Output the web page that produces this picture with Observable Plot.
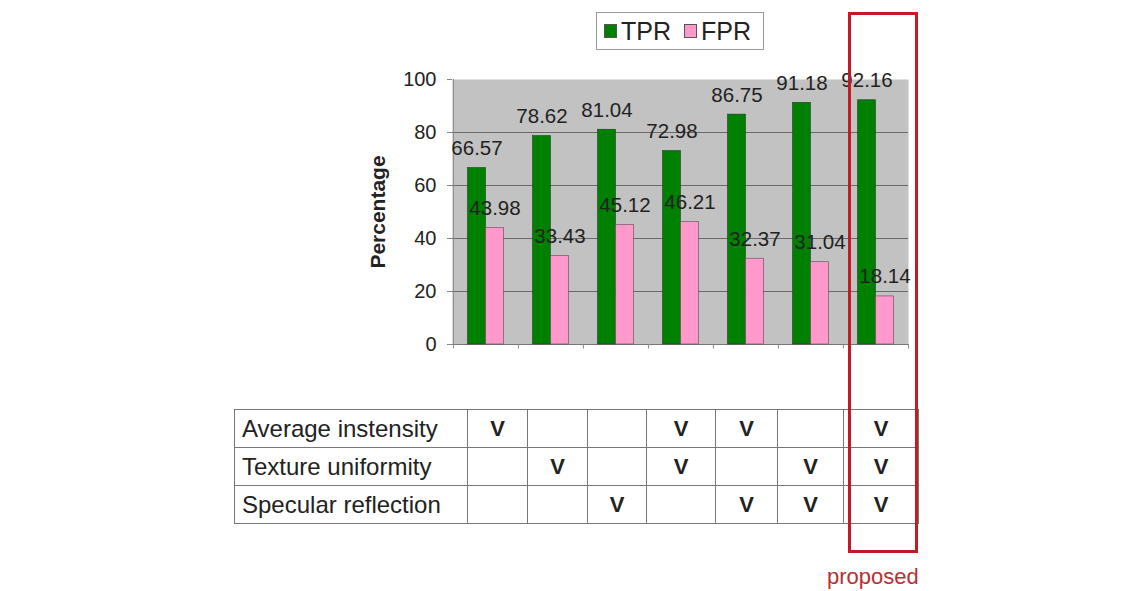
<!DOCTYPE html>
<html>
<head>
<meta charset="utf-8">
<script src="https://cdn.jsdelivr.net/npm/d3@7"></script>
<script src="https://cdn.jsdelivr.net/npm/@observablehq/plot@0.6"></script>
<style>
  html, body { margin: 0; padding: 0; background: #fff; }
  body { font-family: "Liberation Sans", Arial, sans-serif; color: #222; }
  #wrap { position: relative; width: 1145px; height: 591px; overflow: hidden; }
  #chart { position: absolute; left: 0; top: 0; }
  #legend { position: absolute; left: 596px; top: 12px; width: 166px; height: 36px;
            border: 1px solid #999; background: #fff; display: flex; align-items: center;
            box-sizing: content-box; font-size: 25px; }
  #legend .item { display: flex; align-items: center; margin-left: 7px; }
  #legend .item + .item { margin-left: 13px; }
  #legend .sw { width: 11px; height: 12px; border: 1px solid #555; margin-right: 4px; }
  #tbl { position: absolute; left: 234px; top: 409px; border-collapse: collapse; table-layout: fixed; }
  #tbl td { border: 1px solid #777; height: 38px; padding: 0; font-size: 24px; box-sizing: border-box; }
  #tbl td.lab { padding-left: 7px; white-space: nowrap; }
  #tbl td.mk { text-align: center; font-weight: bold; font-size: 22px; }
  #redbox { position: absolute; left: 848px; top: 12px; width: 64px; height: 535px; border: 3px solid #c41a24; }
  #proposed { position: absolute; left: 827px; top: 564px; font-size: 22px; color: #b83036; }
</style>
</head>
<body>
<div id="wrap">
  <div id="chart"></div>
  <div id="legend"></div>
  <table id="tbl"></table>
  <div id="redbox"></div>
  <div id="proposed">proposed</div>
</div>
<script>
// ---- data ----
const groups = ["1", "2", "3", "4", "5", "6", "7"];
const tpr = [66.57, 78.62, 81.04, 72.98, 86.75, 91.18, 92.16];
const fpr = [43.98, 33.43, 45.12, 46.21, 32.37, 31.04, 18.14];
const yTicks = [0, 20, 40, 60, 80, 100];
const gridTicks = [20, 40, 60, 80];
const seriesNames = ["TPR", "FPR"];
const seriesColors = ["#008000", "#ff99cc"];
const yLabel = "Percentage";
const features = ["Average instensity", "Texture uniformity", "Specular reflection"];
const usage = [
  [1, 0, 0, 1, 1, 0, 1],
  [0, 1, 0, 1, 0, 1, 1],
  [0, 0, 1, 0, 1, 1, 1]
];
const colWidths = [233, 60, 60, 59, 69, 62, 66, 75];
const highlightLabel = "proposed";

// ---- chart ----
const rows = groups.map((g, i) => ({group: g, TPR: tpr[i], FPR: fpr[i]}));
const W = 1145, H = 400, ML = 452, MR = 237, MT = 79, MB = 56;
const bw = (W - ML - MR) / groups.length;
const barW = 18;

const chart = Plot.plot({
  width: W, height: H,
  marginLeft: ML, marginRight: MR, marginTop: MT, marginBottom: MB,
  style: {fontFamily: "'Liberation Sans', Arial, sans-serif", fontSize: "19px", color: "#222", background: "transparent", overflow: "visible"},
  x: {domain: groups, padding: 0, axis: null},
  y: {domain: [0, 100], axis: null},
  marks: [
    Plot.frame({fill: "#c2c2c2", stroke: null}),
    Plot.gridY({ticks: gridTicks, stroke: "#6a6a6a", strokeOpacity: 1}),
    Plot.axisY({ticks: yTicks, tickSize: 5, tickPadding: 11, stroke: "#888", label: null, fontSize: 20}),
    Plot.ruleX([groups[0]], {dx: -bw / 2, y1: 0, y2: 100, stroke: "#8a8a8a"}),
    Plot.ruleY([0], {stroke: "#777"}),
    Plot.ruleX(groups, {dx: -bw / 2, y1: 0, y2: -1.7, stroke: "#888"}),
    Plot.ruleX([groups[groups.length - 1]], {dx: bw / 2, y1: 0, y2: -1.7, stroke: "#888"}),
    Plot.barY(rows, {x: "group", y: "TPR", fill: seriesColors[0], stroke: "#1f3a1f", strokeWidth: 0.6,
      insetLeft: bw / 2 - barW, insetRight: bw / 2}),
    Plot.barY(rows, {x: "group", y: "FPR", fill: seriesColors[1], stroke: "#5a4a50", strokeWidth: 0.6,
      insetLeft: bw / 2, insetRight: bw / 2 - barW}),
    Plot.text(rows, {x: "group", y: "TPR", text: d => d.TPR.toFixed(2), dx: -barW / 2, dy: -13,
      lineAnchor: "bottom", fontSize: 20.5, fill: "#222"}),
    Plot.text(rows, {x: "group", y: "FPR", text: d => d.FPR.toFixed(2), dx: barW / 2, dy: -13,
      lineAnchor: "bottom", fontSize: 20.5, fill: "#222"}),
    Plot.text([yLabel], {frameAnchor: "left", textAnchor: "middle", dx: -74, rotate: -90,
      fontWeight: "bold", fontSize: 21, fill: "#222"})
  ]
});
document.getElementById("chart").appendChild(chart);

// ---- legend ----
const legend = document.getElementById("legend");
seriesNames.forEach((name, i) => {
  const item = document.createElement("div");
  item.className = "item";
  const sw = document.createElement("span");
  sw.className = "sw";
  sw.style.background = seriesColors[i];
  const lab = document.createElement("span");
  lab.textContent = name;
  item.appendChild(sw); item.appendChild(lab);
  legend.appendChild(item);
});

// ---- table ----
const tbl = document.getElementById("tbl");
const cg = document.createElement("colgroup");
colWidths.forEach(w => { const c = document.createElement("col"); c.style.width = w + "px"; cg.appendChild(c); });
tbl.appendChild(cg);
features.forEach((f, r) => {
  const tr = document.createElement("tr");
  const th = document.createElement("td");
  th.className = "lab"; th.textContent = f;
  tr.appendChild(th);
  usage[r].forEach(u => {
    const td = document.createElement("td");
    td.className = "mk"; td.textContent = u ? "V" : "";
    tr.appendChild(td);
  });
  tbl.appendChild(tr);
});
document.getElementById("proposed").textContent = highlightLabel;
</script>
</body>
</html>
